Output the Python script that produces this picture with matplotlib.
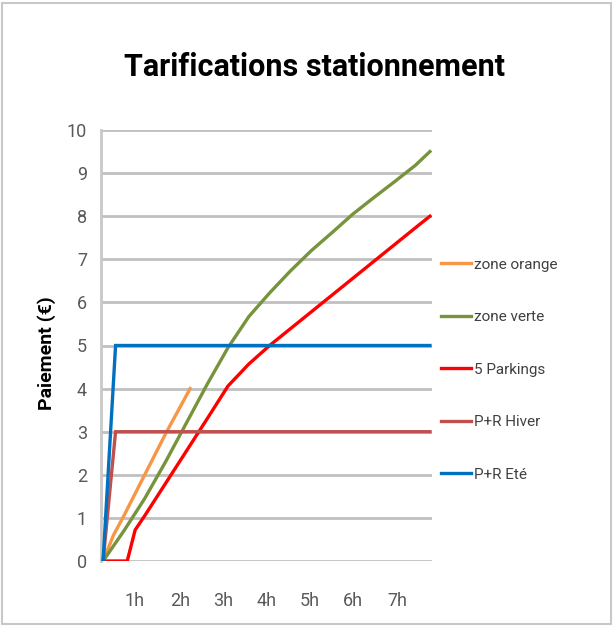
import matplotlib
matplotlib.use("Agg")
import matplotlib.pyplot as plt
from matplotlib.patches import Rectangle

# Data (hours on the drawn scale, euros)
orange_t = [0, 0.25, 0.5, 1.0, 1.5, 2.09]
orange_v = [0, 0.6, 1.05, 2.0, 2.95, 4.0]

verte_t = [0, 0.5, 1.0, 1.5, 2.0, 2.5, 3.0, 3.5, 4.0, 4.5, 5.0, 5.5, 6.0, 6.5, 7.0, 7.5, 7.85]
verte_v = [0, 0.7, 1.45, 2.3, 3.2, 4.1, 4.95, 5.67, 6.22, 6.73, 7.2, 7.62, 8.05, 8.43, 8.8, 9.18, 9.5]

park_t = [0, 0.58, 0.77, 1.0, 1.5, 2.0, 2.5, 3.0, 3.5, 4.0, 4.5, 5.0, 5.5, 6.0, 6.5, 7.0, 7.5, 7.85]
park_v = [0, 0, 0.72, 1.05, 1.8, 2.55, 3.3, 4.06, 4.57, 5.0, 5.39, 5.78, 6.17, 6.56, 6.95, 7.34, 7.73, 8.0]

hiver_t = [0, 0.3, 7.85]
hiver_v = [0, 3, 3]

ete_t = [0, 0.3, 7.85]
ete_v = [0, 5, 5]

series = [
    ("zone orange", orange_t, orange_v, "#F79646"),
    ("zone verte", verte_t, verte_v, "#77933C"),
    ("5 Parkings", park_t, park_v, "#FF0000"),
    ("P+R Hiver", hiver_t, hiver_v, "#C0504D"),
    ("P+R Eté", ete_t, ete_v, "#0070C0"),
]

xtick_labels = ["1h", "2h", "3h", "4h", "5h", "6h", "7h"]
yticks = list(range(0, 11))

FONT = ["Roboto", "DejaVu Sans"]

W, H = 613, 627
fig = plt.figure(figsize=(W / 100, H / 100), dpi=100)
fig.patch.set_facecolor("white")
fig.patches.append(Rectangle((0.004, 0.004), 0.992, 0.992, transform=fig.transFigure,
                             fill=False, edgecolor="#c8c8c8", linewidth=1.5))

left, right, top, bottom = 101, 432, 130, 561
ax = fig.add_axes([left / W, 1 - bottom / H, (right - left) / W, (bottom - top) / H])

lines = []
for name, t, v, c in series:
    ln, = ax.plot(t, v, color=c, linewidth=2.4, label=name, solid_joinstyle="miter", zorder=3)
    lines.append(ln)

xmin, xmax = -0.05, 7.9
ax.set_xlim(xmin, xmax)
ax.set_ylim(0, 10)
ax.set_yticks(yticks)
# category-style label placement as in the reference (labels sit slightly left of whole hours)
ppu = (right - left) / (xmax - xmin)
label_px = [135, 180, 223, 267, 310, 353, 397]
ax.set_xticks([(p - left) / ppu + xmin for p in label_px])
ax.set_xticklabels(xtick_labels)
ax.grid(axis="y", color="#c0c0c0", linewidth=2)
ax.set_axisbelow(True)
for s in ["top", "right", "bottom"]:
    ax.spines[s].set_visible(False)
ax.spines["left"].set_color("#c8c8c8")
ax.spines["left"].set_linewidth(2)
ax.tick_params(axis="both", length=0, labelsize=13, colors="#595959")
ax.tick_params(axis="x", pad=22)
ax.tick_params(axis="y", pad=10)
for lab in ax.get_xticklabels() + ax.get_yticklabels():
    lab.set_family(FONT)

fig.text(315 / W, 1 - 67 / H, "Tarifications stationnement", ha="center", va="center",
         fontsize=22, fontweight="bold", family=FONT, color="#000000")
fig.text(47 / W, 1 - 353 / H, "Paiement (€)", rotation=90, ha="center", va="center",
         fontsize=14, fontweight="bold", family=FONT, color="#000000")

leg = fig.legend(lines, [s[0] for s in series], loc="upper left",
                 bbox_to_anchor=(427 / W, 1 - 244 / H), frameon=False,
                 prop={"family": FONT, "size": 11}, labelspacing=2.52,
                 handlelength=2.0, handletextpad=0.15,
                 labelcolor="#404040")

fig.savefig("out.png", dpi=100, facecolor="white")
